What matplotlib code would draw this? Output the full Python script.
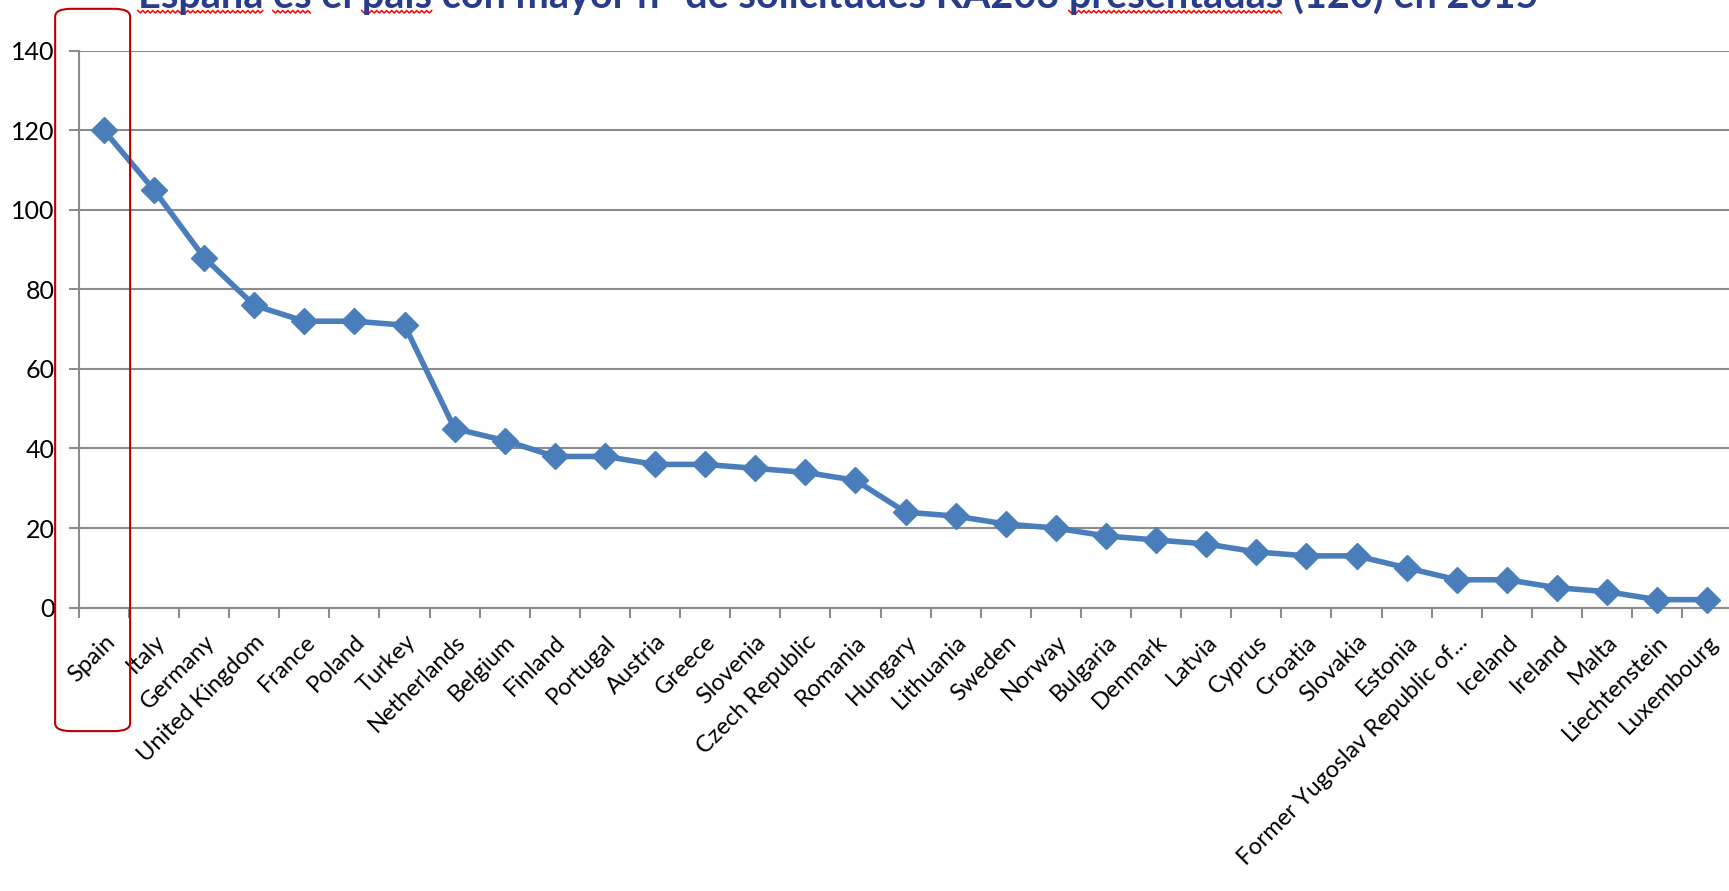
import matplotlib
matplotlib.use("Agg")
import matplotlib.pyplot as plt
from matplotlib.patches import FancyBboxPatch
from matplotlib.lines import Line2D
from matplotlib.font_manager import FontProperties

countries = ["Spain", "Italy", "Germany", "United Kingdom", "France", "Poland", "Turkey",
             "Netherlands", "Belgium", "Finland", "Portugal", "Austria", "Greece", "Slovenia",
             "Czech Republic", "Romania", "Hungary", "Lithuania", "Sweden", "Norway",
             "Bulgaria", "Denmark", "Latvia", "Cyprus", "Croatia", "Slovakia", "Estonia",
             "Former Yugoslav Republic of...", "Iceland", "Ireland", "Malta",
             "Liechtenstein", "Luxembourg"]
applications = [120, 105, 88, 76, 72, 72, 71, 45, 42, 38, 38, 36, 36, 35, 34, 32,
                24, 23, 21, 20, 18, 17, 16, 14, 13, 13, 10, 7, 7, 5, 4, 2, 2]
y_ticks = [0, 20, 40, 60, 80, 100, 120, 140]
title = "España es el país con mayor nº de solicitudes KA203 presentadas (120) en 2015"
spell_flagged = ["España", "es", "país", "presentadas"]

plt.rcParams['font.family'] = ['Lato', 'DejaVu Sans']

# layout reference frame (1568 x 808 units, same aspect as output)
W, H = 1568, 808
fig = plt.figure(figsize=(17.29, 8.91), dpi=100)
left, right, bottom, top = 71.5, 1571, 551, 46
ax = fig.add_axes([left / W, 1 - bottom / H, (right - left) / W, (bottom - top) / H])

grid_col = "#8c8c8c"
x = list(range(len(countries)))
ax.plot(x, applications, color="#4A7EBB", lw=4, marker="D", markersize=13,
        markerfacecolor="#4A7EBB", markeredgecolor="#4A7EBB", zorder=3, clip_on=False)

ax.set_xlim(-0.5, len(countries) - 0.5)
ax.set_ylim(0, 140)
ax.set_yticks(y_ticks)
ax.set_yticklabels([str(v) for v in y_ticks], fontsize=18)
ax.yaxis.grid(True, color=grid_col, lw=1.5)
ax.set_axisbelow(True)

ax.set_xticks(x)
ax.set_xticklabels(countries, rotation=45, ha="right", rotation_mode="anchor", fontsize=17)
ax.set_xticks([i - 0.5 for i in range(len(countries) + 1)], minor=True)
ax.tick_params(axis="x", which="major", length=0, pad=17)
ax.tick_params(axis="x", which="minor", length=7.5, color=grid_col, width=1.5)
ax.tick_params(axis="y", length=7.5, color=grid_col, width=1.5, pad=10)

for s in ["top", "right"]:
    ax.spines[s].set_visible(False)
ax.spines["left"].set_color(grid_col)
ax.spines["left"].set_linewidth(1.5)
ax.spines["bottom"].set_color(grid_col)
ax.spines["bottom"].set_linewidth(1.5)

title_fs = 28.5
title_xc = 760 / W
fig.text(title_xc, 1 - 7 / H, title, ha="center", va="baseline", fontsize=title_fs,
         fontweight="bold", color="#283C8C")

# spell-check style red wavy underlines beneath flagged words of the title
fig.canvas.draw()
renderer = fig.canvas.get_renderer()
prop = FontProperties(family=['Lato', 'DejaVu Sans'], weight="bold", size=title_fs)
fig_w_px = fig.get_figwidth() * fig.dpi
fig_h_px = fig.get_figheight() * fig.dpi


def text_w(s):
    return renderer.get_text_width_height_descent(s, prop, ismath=False)[0]


total_w = text_w(title)
x_start = title_xc * fig_w_px - total_w / 2
search_from = 0
for word in spell_flagged:
    idx = title.index(word, search_from)
    search_from = idx + len(word)
    x0 = x_start + (text_w(title[:idx]) if idx > 0 else 0)
    x1 = x_start + text_w(title[:idx + len(word)])
    xs, ys = [], []
    xp, k = x0, 0
    while xp <= x1:
        xs.append(xp / fig_w_px)
        ys.append(1 - (10.5 + (2.5 if k % 2 else 0)) / fig_h_px)
        xp += 2.5
        k += 1
    fig.add_artist(Line2D(xs, ys, transform=fig.transFigure, color="#FF0000", lw=1.1))

box = FancyBboxPatch((50 / W, 1 - 663 / H), 68 / W, 655 / H,
                     boxstyle="round,pad=0,rounding_size=0.009",
                     transform=fig.transFigure, fill=False, edgecolor="#C00000", lw=1.5)
fig.patches.append(box)

fig.savefig("out.png", dpi=100)
